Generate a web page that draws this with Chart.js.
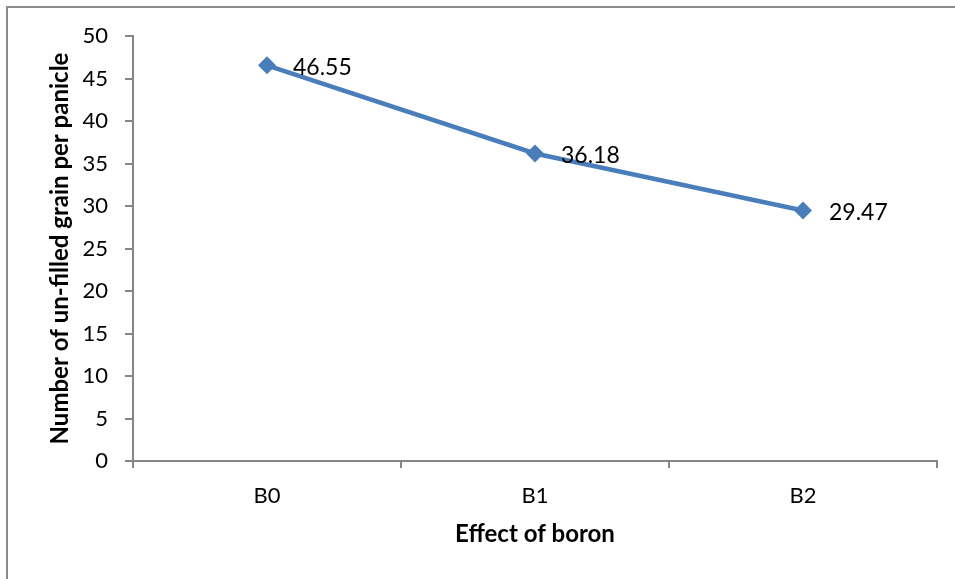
<!DOCTYPE html>
<html>
<head>
<meta charset="utf-8">
<script src="https://cdn.jsdelivr.net/npm/chart.js@4"></script>
<style>
  html, body { margin: 0; padding: 0; background: #fff; }
  #wrap { position: relative; width: 955px; height: 579px; overflow: hidden; }
  #frame { position: absolute; left: 6px; top: 6px; width: 960px; height: 600px; border: 2px solid #8c8c8c; box-sizing: border-box; }
  canvas { position: absolute; left: 0; top: 0; }
</style>
</head>
<body>
<div id="wrap">
  <div id="frame"></div>
  <canvas id="myChart" width="955" height="579"></canvas>
</div>
<script>
// data
var categories = ["B0", "B1", "B2"];
var unfilledGrain = [46.55, 36.18, 29.47];
var yTicks = [0, 5, 10, 15, 20, 25, 30, 35, 40, 45, 50];

var lineBlue = "#4a7ebb";
var axisGrey = "#868686";
var fontFam = "Lato, 'Open Sans', sans-serif";

// value labels to the right of each point
var pointLabels = {
  id: "pointLabels",
  afterDatasetsDraw: function (chart) {
    var ctx = chart.ctx;
    var meta = chart.getDatasetMeta(0);
    ctx.save();
    ctx.fillStyle = "#000";
    ctx.font = "23px " + fontFam;
    ctx.textAlign = "left";
    ctx.textBaseline = "middle";
    meta.data.forEach(function (pt, i) {
      ctx.fillText(unfilledGrain[i].toFixed(2), pt.x + 26, pt.y + 2);
    });
    ctx.restore();
  }
};

var ctx = document.getElementById("myChart").getContext("2d");
var myChart = new Chart(ctx, {
  type: "line",
  data: {
    labels: categories,
    datasets: [{
      data: unfilledGrain,
      borderColor: lineBlue,
      backgroundColor: lineBlue,
      borderWidth: 4.5,
      pointStyle: "rectRot",
      pointRadius: 9,
      pointBorderWidth: 0,
      tension: 0
    }]
  },
  options: {
    responsive: false,
    animation: false,
    layout: { padding: { top: 36, right: 18, left: 0, bottom: 0 } },
    plugins: {
      legend: { display: false },
      tooltip: { enabled: false }
    },
    scales: {
      x: {
        offset: true,
        grid: { offset: true, drawOnChartArea: false, drawTicks: true, tickLength: 7, color: axisGrey, lineWidth: 2 },
        border: { color: axisGrey, width: 2 },
        ticks: { color: "#000", font: { family: fontFam, size: 22 }, padding: 15 },
        title: { display: true, text: "Effect of boron", color: "#000", font: { family: fontFam, size: 24, weight: "bold" }, padding: { top: 0, bottom: 30 } },
        afterFit: function (s) { s.height = 118; }
      },
      y: {
        min: 0, max: 50,
        afterBuildTicks: function (s) { s.ticks = yTicks.map(function (v) { return { value: v }; }); },
        grid: { drawOnChartArea: false, drawTicks: true, tickLength: 8, color: axisGrey, lineWidth: 2 },
        border: { color: axisGrey, width: 2 },
        ticks: { color: "#000", font: { family: fontFam, size: 22 }, padding: 17 },
        title: { display: true, text: "Number of un-filled grain per panicle", color: "#000", font: { family: fontFam, size: 24, weight: "bold" }, padding: { top: 46, bottom: 0 } },
        afterFit: function (s) { s.width = 133; }
      }
    }
  },
  plugins: [pointLabels]
});
</script>
</body>
</html>
